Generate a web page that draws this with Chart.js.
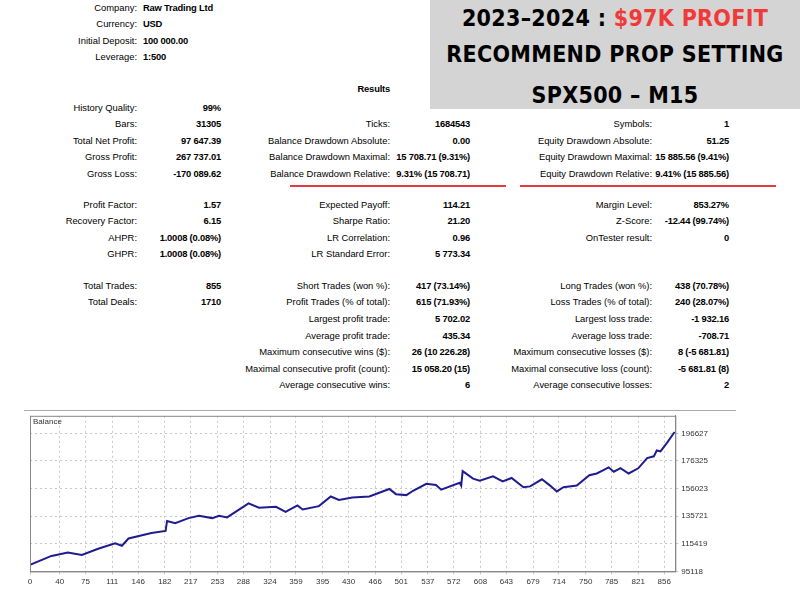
<!DOCTYPE html>
<html>
<head>
<meta charset="utf-8">
<script src="https://cdn.jsdelivr.net/npm/chart.js@4/dist/chart.umd.min.js"></script>
<style>
body { margin:0; width:800px; height:600px; background:#fff; position:relative; overflow:hidden; font-family:"Liberation Sans", Arial, sans-serif; font-size:9.4px; color:#000; }
.t { position:absolute; white-space:nowrap; line-height:12px; }
#head { position:absolute; left:430px; top:0; width:370px; height:109px; background:#d4d4d4; }
#head div { position:absolute; left:0; width:370px; text-align:center; font-family:"DejaVu Sans Condensed","DejaVu Sans",sans-serif; font-weight:bold; font-size:23px; letter-spacing:0.3px; }
.red { color:#f03a3a; }
.line { position:absolute; height:2px; background:#e23b3b; top:185px; }
#box { position:absolute; left:24px; top:410px; width:712px; height:178px; border-top:1px solid #aaa; }
#bal { position:absolute; left:33px; top:416px; font-size:8px; color:#333; }
</style>
</head>
<body>
<div id="head">
  <div style="top:5px">2023–2024 : <span class="red">$97K PROFIT</span></div>
  <div style="top:41px">RECOMMEND PROP SETTING</div>
  <div style="top:82px">SPX500 – M15</div>
</div>
<div id="txt"></div>
<div class="line" style="left:290px;width:216px"></div>
<div class="line" style="left:520px;width:256px"></div>
<div id="box"></div>
<div style="position:absolute;left:20px;top:408px;width:715px;height:182px"><canvas id="c"></canvas></div>
<div id="bal" class="t">Balance</div>
<script>
// encabezado
const infoLabels = ["Company:", "Currency:", "Initial Deposit:", "Leverage:"];
const infoValues = ["Raw Trading Ltd", "USD", "100 000.00", "1:500"];
const infoRows = [8, 24, 41, 57];

// tabla de resultados: [fila y, etiqueta, valor] por columna
const col1 = [
  [108, "History Quality:", "99%"], [124, "Bars:", "31305"], [141, "Total Net Profit:", "97 647.39"],
  [157, "Gross Profit:", "267 737.01"], [174, "Gross Loss:", "-170 089.62"],
  [205, "Profit Factor:", "1.57"], [221, "Recovery Factor:", "6.15"], [238, "AHPR:", "1.0008 (0.08%)"],
  [254, "GHPR:", "1.0008 (0.08%)"], [286, "Total Trades:", "855"], [302, "Total Deals:", "1710"]
];
const col2 = [
  [124, "Ticks:", "1684543"], [141, "Balance Drawdown Absolute:", "0.00"],
  [157, "Balance Drawdown Maximal:", "15 708.71 (9.31%)"], [174, "Balance Drawdown Relative:", "9.31% (15 708.71)"],
  [205, "Expected Payoff:", "114.21"], [221, "Sharpe Ratio:", "21.20"], [238, "LR Correlation:", "0.96"],
  [254, "LR Standard Error:", "5 773.34"], [286, "Short Trades (won %):", "417 (73.14%)"],
  [302, "Profit Trades (% of total):", "615 (71.93%)"], [319, "Largest profit trade:", "5 702.02"],
  [336, "Average profit trade:", "435.34"], [352, "Maximum consecutive wins ($):", "26 (10 226.28)"],
  [369, "Maximal consecutive profit (count):", "15 058.20 (15)"], [385, "Average consecutive wins:", "6"]
];
const col3 = [
  [124, "Symbols:", "1"], [141, "Equity Drawdown Absolute:", "51.25"],
  [157, "Equity Drawdown Maximal:", "15 885.56 (9.41%)"], [174, "Equity Drawdown Relative:", "9.41% (15 885.56)"],
  [205, "Margin Level:", "853.27%"], [221, "Z-Score:", "-12.44 (99.74%)"], [238, "OnTester result:", "0"],
  [286, "Long Trades (won %):", "438 (70.78%)"], [302, "Loss Trades (% of total):", "240 (28.07%)"],
  [319, "Largest loss trade:", "-1 932.16"], [336, "Average loss trade:", "-708.71"],
  [352, "Maximum consecutive losses ($):", "8 (-5 681.81)"], [369, "Maximal consecutive loss (count):", "-5 681.81 (8)"],
  [385, "Average consecutive losses:", "2"]
];

// curva de balance
const trades = [0, 29, 51, 70, 92, 115, 124, 133, 164, 183, 185, 196, 214, 228, 246, 255, 266, 295, 309, 332, 345, 361, 368, 390, 406, 417, 435, 458, 485, 494, 508, 517, 535, 548, 555, 580, 582, 584, 598, 607, 625, 638, 650, 666, 675, 691, 702, 711, 720, 738, 755, 765, 774, 781, 788, 797, 808, 821, 833, 842, 846, 851, 860, 870];
const balance = [100000, 106500, 109000, 107200, 111800, 115800, 114000, 119300, 123400, 124900, 132200, 130500, 134300, 136000, 134300, 136000, 134800, 145100, 141900, 142600, 138800, 143600, 140600, 143100, 150200, 147600, 149400, 150200, 155700, 151900, 151200, 154400, 159500, 158700, 155200, 160300, 158200, 168800, 163300, 161800, 165000, 161300, 163800, 157000, 157600, 162800, 158200, 153900, 157000, 158200, 165800, 167100, 169600, 171600, 168400, 171000, 167100, 170900, 178400, 179700, 184000, 183300, 189800, 197600];
const xTicks = [0, 40, 75, 111, 146, 182, 217, 253, 288, 324, 359, 395, 430, 466, 501, 537, 572, 608, 643, 679, 714, 750, 785, 821, 856];
const yTicks = [95118, 115419, 135721, 156023, 176325, 196627];

const txt = document.getElementById("txt");
function put(x, y, s, right, bold) {
  const d = document.createElement("div");
  d.className = "t";
  d.textContent = s;
  d.style.top = (y - 6) + "px";
  if (right) { d.style.right = (800 - x) + "px"; } else { d.style.left = x + "px"; }
  if (bold) { d.style.fontWeight = "bold"; d.style.letterSpacing = "-0.2px"; }
  txt.appendChild(d);
}
infoLabels.forEach((l, i) => { put(137, infoRows[i], l, true); put(143, infoRows[i], infoValues[i], false, true); });
put(390, 89, "Results", true, true);
col1.forEach(r => { put(137, r[0], r[1], true); put(221, r[0], r[2], true, true); });
col2.forEach(r => { put(390, r[0], r[1], true); put(470, r[0], r[2], true, true); });
col3.forEach(r => { put(652, r[0], r[1], true); put(729, r[0], r[2], true, true); });

new Chart(document.getElementById("c"), {
  type: 'line',
  data: {
    datasets: [{
      data: trades.map((t, i) => ({ x: t, y: balance[i] })),
      borderColor: '#1f1c8f',
      borderWidth: 2,
      pointRadius: 0,
      tension: 0,
      fill: false
    }]
  },
  options: {
    responsive: true,
    maintainAspectRatio: false,
    animation: false,
    layout: { padding: { left: 10, top: 6, right: 24, bottom: 0 } },
    plugins: { legend: { display: false }, tooltip: { enabled: false } },
    scales: {
      x: {
        type: 'linear', min: 0, max: 871,
        afterBuildTicks: s => { s.ticks = xTicks.map(v => ({ value: v })); },
        ticks: { font: { size: 8, family: "Liberation Sans" }, color: '#333', maxRotation: 0, autoSkip: false, padding: 3, callback: v => String(v) },
        grid: { color: '#c8c8c8', tickLength: 3 },
        border: { color: '#888', dash: [2, 3] }
      },
      y: {
        position: 'right',
        min: 95118, max: 209500,
        afterBuildTicks: s => { s.ticks = yTicks.map(v => ({ value: v })); },
        ticks: { font: { size: 8, family: "Liberation Sans" }, color: '#333', padding: 3, callback: v => String(v) },
        grid: { color: '#c8c8c8', tickLength: 3 },
        border: { color: '#888', dash: [2, 3] }
      }
    }
  },
  plugins: [{
    id: 'frame',
    afterDraw(c) {
      const a = c.chartArea, ctx = c.ctx;
      ctx.save();
      ctx.strokeStyle = '#888'; ctx.lineWidth = 1; ctx.setLineDash([]);
      ctx.strokeRect(a.left + 0.5, a.top + 0.5, a.right - a.left, a.bottom - a.top);
      ctx.restore();
    }
  }]
});
</script>
</body>
</html>
